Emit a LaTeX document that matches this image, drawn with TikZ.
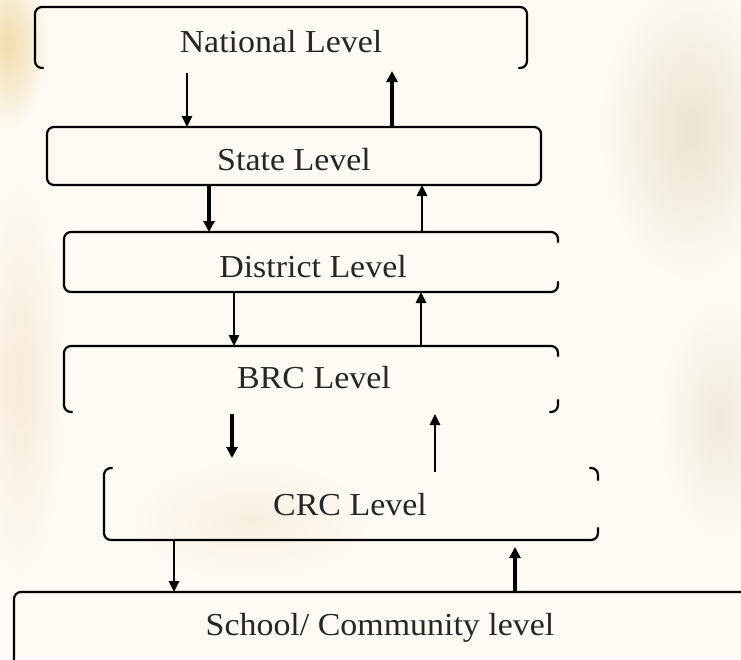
\documentclass[tikz,border=0pt]{standalone}
\usepackage{fontspec}
\setmainfont{Liberation Serif}[FakeStretch=1.06]
\usetikzlibrary{arrows.meta,calc}
\definecolor{bgc}{RGB}{252,250,243}
\definecolor{warm}{RGB}{242,220,170}
\definecolor{tan}{RGB}{236,228,208}
\definecolor{peach}{RGB}{248,234,216}
\tikzset{
  box/.style={draw=none,rectangle,outer sep=0pt,inner sep=0pt},
  lbl/.style={font=\fontsize{32}{37}\selectfont,inner sep=0pt,text=black!85},
  edge/.style={line width=2.2pt,rounded corners=7pt,line cap=round},
  arr/.style={line width=2.5pt,-{Triangle[length=11pt,width=10pt]}},
  arrb/.style={line width=3.2pt,-{Triangle[length=11pt,width=11pt]}}
}
\begin{document}
\begin{tikzpicture}[x=1pt,y=-1pt]
\useasboundingbox (0,0) rectangle (741,659);
\clip (0,0) rectangle (741,659);
% background
\fill[bgc] (0,0) rectangle (741,659);
\shade[inner color=warm, outer color=bgc] (8,45) ellipse [x radius=40, y radius=85];
\shade[inner color=tan, outer color=bgc] (690,130) ellipse [x radius=90, y radius=150];
\shade[inner color=peach, outer color=bgc] (20,380) ellipse [x radius=45, y radius=200];
\shade[inner color=peach!70!bgc, outer color=bgc] (250,520) ellipse [x radius=120, y radius=60];
\shade[inner color=tan!70!bgc, outer color=bgc] (720,420) ellipse [x radius=60, y radius=120];

% boxes (geometry only)
\node[box,minimum width=492pt,minimum height=61pt] (nat) at (281,37.5) {};
\node[box,minimum width=494pt,minimum height=58pt] (st) at (294,156) {};
\node[box,minimum width=494pt,minimum height=60pt] (dist) at (311,262) {};
\node[box,minimum width=494pt,minimum height=66pt] (brc) at (311,379) {};
\node[box,minimum width=494pt,minimum height=72pt] (crc) at (351,504) {};
\coordinate (schtl) at (14,592);

% labels
\node[lbl] (natT) at (281,42) {National Level};
\node[lbl] (stT) at (294,160) {State Level};
\node[lbl] (distT) at (313,267) {District Level};
\node[lbl] (brcT) at (314,378) {BRC Level};
\node[lbl] (crcT) at (350,505) {CRC Level};
\node[lbl] (schT) at (380,628) {School/ Community level};

% borders
\draw[edge] ($(nat.south west)+(8,0)$) -- (nat.south west) -- (nat.north west) -- (nat.north east) -- (nat.south east) -- ($(nat.south east)+(-8,0)$);
\draw[edge] (st.north west) -- (st.north east) -- (st.south east) -- (st.south west) -- cycle;
\draw[edge] ($(dist.north east)+(0,10)$) -- (dist.north east) -- (dist.north west) -- (dist.south west) -- (dist.south east) -- ($(dist.south east)+(0,-10)$);
\draw[edge] ($(brc.south west)+(8,0)$) -- (brc.south west) -- (brc.north west) -- (brc.north east) -- ($(brc.north east)+(0,10)$);
\draw[edge] ($(brc.south east)+(0,-12)$) -- (brc.south east) -- ($(brc.south east)+(-8,0)$);
\draw[edge] ($(crc.north west)+(8,0)$) -- (crc.north west) -- (crc.south west) -- (crc.south east) -- ($(crc.south east)+(0,-12)$);
\draw[edge] ($(crc.north east)+(-8,0)$) -- (crc.north east) -- ($(crc.north east)+(0,12)$);
\draw[edge] (14,720) -- (schtl) -- (760,592);

% arrow columns
\coordinate (a1) at (187,0); \coordinate (b1) at (392,0);
\coordinate (a2) at (209,0); \coordinate (b2) at (422,0);
\coordinate (a3) at (234,0); \coordinate (b3) at (421,0);
\coordinate (a4) at (232,0); \coordinate (b4) at (435,0);
\coordinate (a5) at (174,0); \coordinate (b5) at (515,0);

% arrows
\draw[arr] ([yshift=-5pt]nat.south -| a1) -- (st.north -| a1);
\draw[arrb] (st.north -| b1) -- ([yshift=-3pt]nat.south -| b1);
\draw[arrb] (st.south -| a2) -- (dist.north -| a2);
\draw[arr] (dist.north -| b2) -- (st.south -| b2);
\draw[arr] (dist.south -| a3) -- (brc.north -| a3);
\draw[arr] (brc.north -| b3) -- (dist.south -| b3);
\draw[arrb] ([yshift=-2pt]brc.south -| a4) -- ([yshift=10pt]crc.north -| a4);
\draw[arr] ([yshift=-4pt]crc.north -| b4) -- ([yshift=-2pt]brc.south -| b4);
\draw[arr] (crc.south -| a5) -- (schtl -| a5);
\draw[arrb] (schtl -| b5) -- ([yshift=-7pt]crc.south -| b5);
\end{tikzpicture}
\end{document}
